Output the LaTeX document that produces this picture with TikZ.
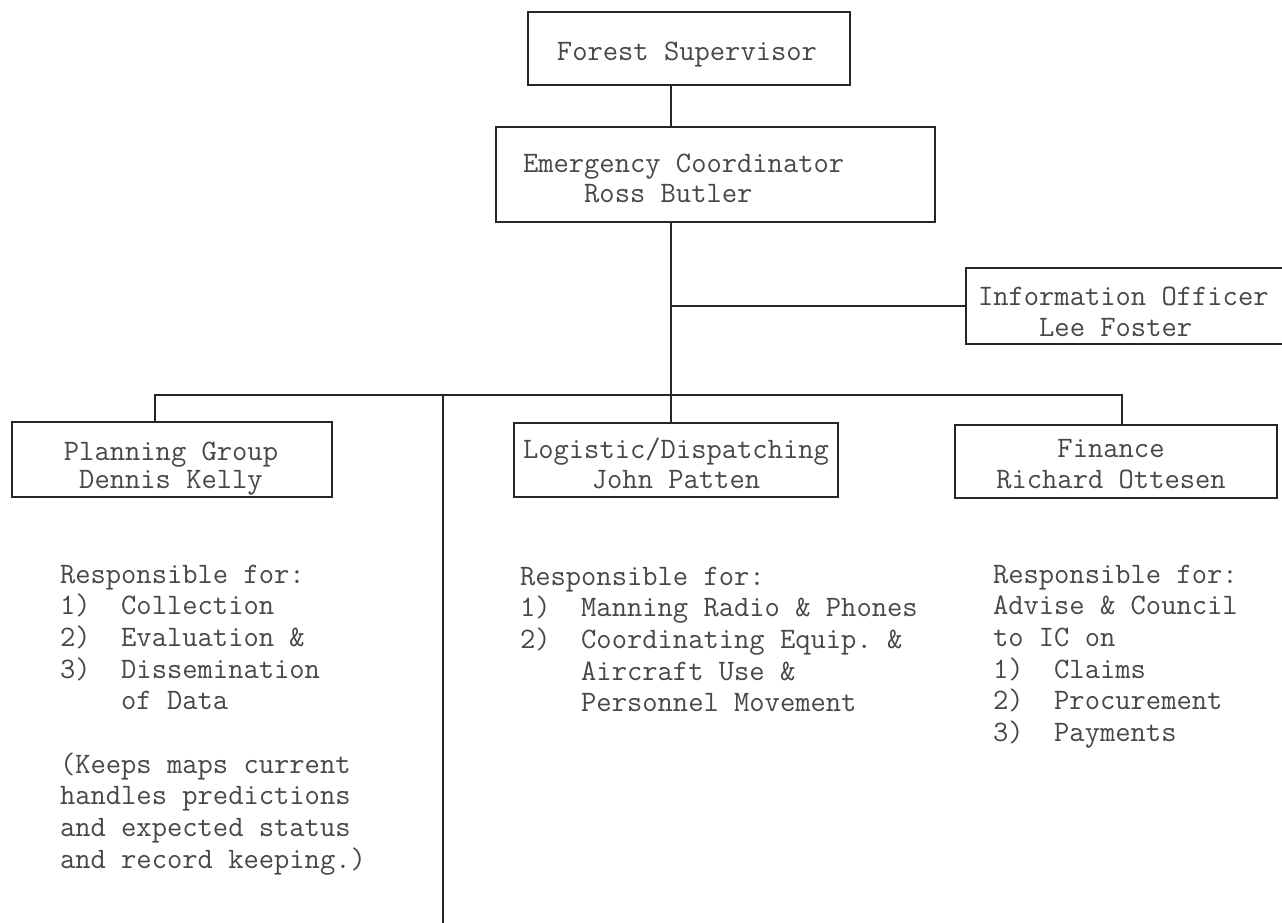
\documentclass[tikz,border=0pt]{standalone}
\usepackage{fontspec}
\frenchspacing
\tikzset{
  x=1pt, y=-1pt,
  box/.style={draw=black!85, line width=1.7pt, inner sep=0pt, outer sep=0pt},
  wire/.style={draw=black!85, line width=1.6pt},
  txt/.style={inner sep=0pt, outer sep=0pt, text=black!72, font=\ttfamily\fontsize{29.7}{31.7}\selectfont},
  btxt/.style={txt, font=\ttfamily\fontsize{29.7}{#1}\selectfont},
}
\newcommand\topst{\rule{0pt}{23pt}}
\begin{document}
\begin{tikzpicture}
\useasboundingbox (0,0) rectangle (1282,923);
\fill[white] (0,0) rectangle (1282,923);
\clip (0,0) rectangle (1282,923);

% boxes
\node[box, minimum width=322, minimum height=73] (fs) at (689,48.5) {};
\node[box, minimum width=439, minimum height=95] (ec) at (715.5,174.5) {};
\node[box, minimum width=334, minimum height=76] (io) at (1133,306) {};
\node[box, minimum width=320, minimum height=75] (pg) at (172,459.5) {};
\node[box, minimum width=324, minimum height=74] (lg) at (676,460) {};
\node[box, minimum width=322, minimum height=73] (fn) at (1116,461.5) {};

% box texts
\node[txt, anchor=base] (fst) at (687,61) {Forest Supervisor};
\node[btxt=30, anchor=north west, align=left] (ect) at (523,149) {\topst Emergency Coordinator\\\phantom{Emer}Ross Butler};
\node[btxt=31, anchor=north west, align=left] (iot) at (978,282) {\topst Information Officer\\\phantom{Info}Lee Foster};
\node[btxt=28, anchor=north, align=center] (pgt) at (171,437) {\topst Planning Group\\Dennis Kelly};
\node[btxt=30, anchor=north, align=center] (lgt) at (676,435) {\topst Logistic/Dispatching\\John Patten};
\node[btxt=31, anchor=north, align=center] (fnt) at (1111,434) {\topst Finance\\Richard Ottesen};

% connectors
\coordinate (sp) at (671,0);
\coordinate (barL) at (155,395);
\coordinate (barR) at (1122,395);
\coordinate (vt) at (443,395);
\coordinate (vb) at (443,935);
\draw[wire] (sp |- fs.south) -- (sp |- ec.north);
\draw[wire] (sp |- ec.south) -- (sp |- lg.north);
\draw[wire] (sp |- io.west) -- (io.west);
\draw[wire] (barL |- pg.north) -- (barL) -- (barR) -- (barR |- fn.north);
\draw[wire] (vt) -- (vb);

% responsibility lists
\node[txt, anchor=north west, align=left] (pgl) at (60,560) {\topst Responsible for:\\1)\ \ Collection\\2)\ \ Evaluation \&\\3)\ \ Dissemination\\\phantom{0000}of Data\\[31.7pt](Keeps maps current\\handles predictions\\and expected status\\and record keeping.)};
\node[txt, anchor=north west, align=left] (lgl) at (520,562) {\topst Responsible for:\\1)\ \ Manning Radio \& Phones\\2)\ \ Coordinating Equip. \&\\\phantom{0000}Aircraft Use \&\\\phantom{0000}Personnel Movement};
\node[txt, anchor=north west, align=left] (fnl) at (993,560) {\topst Responsible for:\\Advise \& Council\\to IC on\\1)\ \ Claims\\2)\ \ Procurement\\3)\ \ Payments};
\end{tikzpicture}
\end{document}
